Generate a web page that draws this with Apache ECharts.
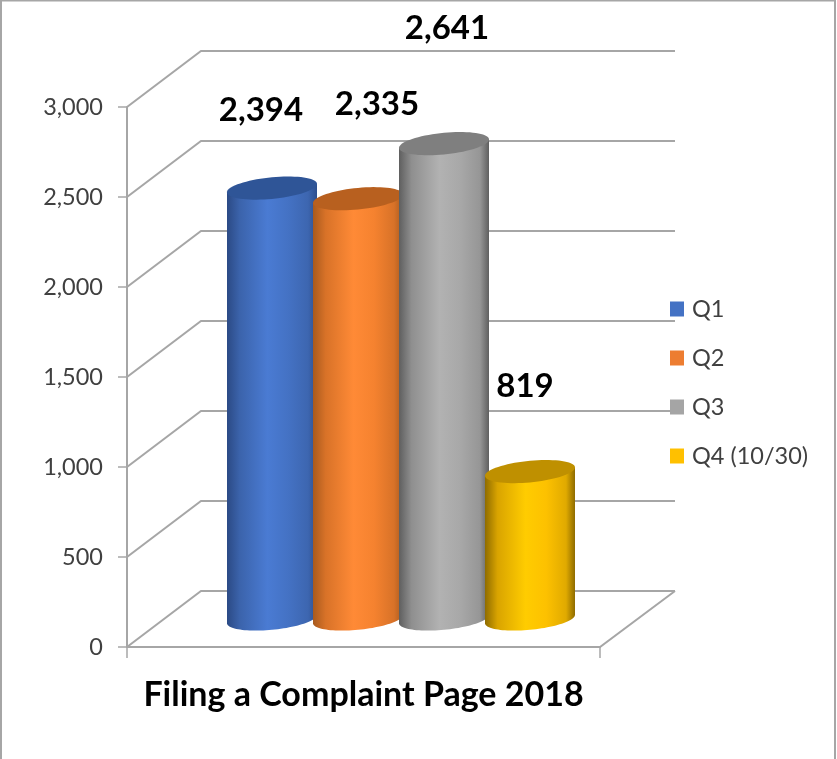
<!DOCTYPE html>
<html><head><meta charset="utf-8">
<style>html,body{margin:0;padding:0;background:#fff}#c{width:837px;height:759px}</style>
<script src="https://cdn.jsdelivr.net/npm/echarts@6/dist/echarts.min.js"></script>
</head><body><div id="c"></div>
<script>
var categories = ['Filing a Complaint Page 2018'];
var seriesNames = ['Q1', 'Q2', 'Q3', 'Q4 (10/30)'];
var seriesValues = [2394, 2335, 2641, 819];
var yTicks = [0, 500, 1000, 1500, 2000, 2500, 3000];

var swatchColors = ['#4472c4', '#ed7d31', '#a5a5a5', '#ffc000'];
var capColors = ['#2f5597', '#b8601f', '#7f7f7f', '#bf9000'];
var bodyStops = [
  ['#2b4a85', '#3b63ab', '#4a7bd3', '#4472c4', '#3d66b0', '#2d4f8e'],
  ['#a85a1e', '#d87228', '#ff8a36', '#f5822f', '#d87228', '#a85a1e'],
  ['#5f5f5f', '#8f8f8f', '#b2b2b2', '#a8a8a8', '#969696', '#5f5f5f'],
  ['#8f6c00', '#d9a400', '#ffcc00', '#fdc100', '#e0aa00', '#8f6c00']
];
var labelOffsets = [[-11, -78], [19, -94], [3, -115], [-5, -85]];

var DEPTH = [74, -56], BAR_SHIFT = [37.5, -28];
var STEP = 86, RX = 45, RY = 10.8, SKEW = 4.2;
var GRID_COLOR = '#a6a6a6', TEXT_COLOR = '#404040';

function fmt(v) { return String(v).replace(/\B(?=(\d{3})+$)/g, ','); }

function ellipsePts(cx, cy, from, to, n) {
  var pts = [];
  for (var i = 0; i <= n; i++) {
    var t = from + (to - from) * i / n;
    pts.push([cx + RX * Math.cos(t), cy + RY * Math.sin(t) - SKEW * Math.cos(t)]);
  }
  return pts;
}

function renderBar(params, api) {
  var i = params.seriesIndex - 1;
  var top = api.coord([0, api.value(1)]);
  var base = api.coord([0, 0]);
  var cx = top[0] + BAR_SHIFT[0] + (i - 1.5) * STEP;
  var ty = top[1] + BAR_SHIFT[1];
  var by = base[1] + BAR_SHIFT[1];
  var body = ellipsePts(cx, by, Math.PI, 0, 48);
  body.push([cx + RX, ty - SKEW], [cx - RX, ty + SKEW]);
  var s = bodyStops[i];
  var grad = new echarts.graphic.LinearGradient(0, 0, 1, 0, [
    {offset: 0, color: s[0]}, {offset: 0.14, color: s[1]}, {offset: 0.45, color: s[2]},
    {offset: 0.68, color: s[3]}, {offset: 0.9, color: s[4]}, {offset: 1, color: s[5]}
  ]);
  return {type: 'group', children: [
    {type: 'polygon', shape: {points: body}, style: {fill: grad}},
    {type: 'polygon', shape: {points: ellipsePts(cx, ty, 0, Math.PI * 2, 72)}, style: {fill: capColors[i]}},
    {type: 'text', z2: 10, style: {
      x: cx + labelOffsets[i][0], y: ty + labelOffsets[i][1],
      text: fmt(seriesValues[i]), font: 'bold 33px Lato', fill: '#000',
      align: 'center', verticalAlign: 'middle'
    }}
  ]};
}

function renderWall(params, api) {
  var v = api.value(1);
  var left = api.coord([0, v]);
  var size = api.size([1, 0]);
  var x0 = left[0] - size[0] / 2, x1 = left[0] + size[0] / 2, y = left[1];
  var ls = {stroke: GRID_COLOR, lineWidth: 2, fill: null};
  var kids = [{type: 'polyline', shape: {points: [[x0, y], [x0 + DEPTH[0], y + DEPTH[1]], [x1 + DEPTH[0] + 1, y + DEPTH[1]]]}, style: ls}];
  if (v === 0) {
    kids.push({type: 'polyline', shape: {points: [[x0, y], [x1, y], [x1 + DEPTH[0] + 1, y + DEPTH[1]]]}, style: ls});
  }
  return {type: 'group', children: kids};
}

var series = [{
  type: 'custom', name: 'walls', renderItem: renderWall, silent: true, z: 1,
  data: yTicks.map(function (t) { return [0, t]; })
}];
seriesNames.forEach(function (n, i) {
  series.push({
    type: 'custom', name: n, renderItem: renderBar, z: 2 + i,
    itemStyle: {color: swatchColors[i]},
    data: [[0, seriesValues[i]]]
  });
});

var chart = echarts.init(document.getElementById('c'), null, {renderer: 'canvas'});
chart.setOption({
  animation: false,
  backgroundColor: '#fff',
  grid: {left: 127, top: 107, width: 473, height: 540, containLabel: false},
  xAxis: {
    type: 'category', data: categories, boundaryGap: true,
    axisLine: {show: true, lineStyle: {color: GRID_COLOR, width: 2}},
    axisTick: {show: true, length: 11, lineStyle: {color: GRID_COLOR, width: 1.5}},
    axisLabel: {color: '#000', fontFamily: 'Lato', fontWeight: 'bold', fontSize: 34, margin: 31, interval: 0}
  },
  yAxis: {
    type: 'value', min: 0, max: 3000, interval: 500,
    splitLine: {show: false},
    axisLine: {show: true, lineStyle: {color: GRID_COLOR, width: 2}},
    axisTick: {show: true, length: 9, lineStyle: {color: GRID_COLOR, width: 1.5}},
    axisLabel: {color: TEXT_COLOR, fontFamily: 'Lato', fontSize: 23.5, margin: 24, padding: [3, 0, 0, 0], formatter: function (v) { return fmt(v); }}
  },
  legend: {
    orient: 'vertical', left: 665, top: 292, icon: 'rect', itemWidth: 14, itemHeight: 15, itemGap: 25,
    data: seriesNames, selectedMode: false,
    textStyle: {color: TEXT_COLOR, fontFamily: 'Lato', fontSize: 23.5, padding: [0, 0, 0, 3], lineHeight: 23}
  },
  graphic: [{
    type: 'polyline', silent: true, z: 100,
    shape: {points: [[1, 759], [1, 0.5], [835, 0.5], [835, 759]]},
    style: {stroke: '#a6a6a6', lineWidth: 2, fill: null}
  }],
  series: series
});
</script></body></html>
